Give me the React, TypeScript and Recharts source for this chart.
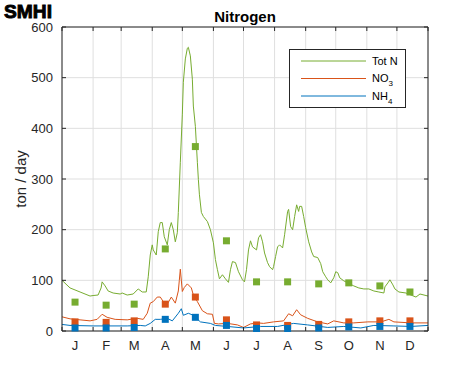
import {
  ComposedChart,
  Line,
  Scatter,
  XAxis,
  YAxis,
  ZAxis,
  CartesianGrid,
} from "recharts";

const months = ["J", "F", "M", "A", "M", "J", "J", "A", "S", "O", "N", "D"];
const monthStarts = [0, 31, 59, 90, 120, 151, 181, 212, 243, 273, 304, 334, 365];
const sampleDays = [13, 44, 72, 103, 133, 164, 194, 225, 256, 286, 317, 347];
const yTicks = [0, 100, 200, 300, 400, 500, 600];

// daily transport, [day of year, ton/day]
const totN: [number, number][] = [
  [0, 100], [8, 85], [18, 77], [28, 69], [31, 70], [36, 71], [39, 85], [40, 97],
  [43, 89], [46, 79], [51, 75], [58, 73], [60, 75], [65, 71], [71, 73], [76, 83],
  [80, 77], [84, 77], [86, 107], [88, 150], [90, 170], [91, 160], [94, 150],
  [96, 196], [98, 214], [100, 214], [102, 186], [105, 170], [107, 200], [109, 214],
  [111, 200], [113, 176], [115, 194], [116, 234], [118, 333], [120, 428], [121, 491],
  [123, 537], [125, 558], [126, 560], [128, 543], [130, 497], [131, 444], [133, 404],
  [135, 333], [136, 299], [137, 270], [139, 234], [141, 226], [145, 216], [148, 200],
  [151, 174], [153, 141], [155, 121], [157, 103], [160, 111], [163, 103], [166, 96],
  [168, 121], [170, 137], [173, 135], [176, 117], [180, 101], [182, 97], [184, 121],
  [186, 160], [188, 178], [190, 166], [194, 160], [196, 184], [198, 190], [200, 176],
  [202, 154], [205, 135], [207, 127], [210, 121], [211, 127], [213, 147], [215, 166],
  [217, 170], [220, 164], [222, 190], [225, 236], [226, 240], [228, 206], [230, 200],
  [232, 226], [234, 249], [236, 236], [237, 246], [239, 246], [241, 226], [243, 204],
  [246, 176], [249, 156], [251, 147], [255, 145], [258, 133], [260, 117], [263, 107],
  [265, 101], [268, 95], [271, 105], [273, 117], [275, 115], [277, 105], [281, 99],
  [285, 95], [291, 89], [296, 85], [301, 83], [306, 83], [311, 79], [316, 77],
  [321, 75], [322, 87], [325, 95], [327, 101], [330, 91], [332, 83], [336, 77],
  [343, 75], [348, 71], [353, 67], [357, 73], [361, 71], [365, 69],
];

const no3: [number, number][] = [
  [0, 28], [8, 24], [18, 22], [28, 20], [35, 23], [40, 33], [45, 27], [53, 23],
  [65, 22], [75, 25], [81, 23], [85, 35], [88, 55], [91, 58], [95, 67], [98, 67],
  [101, 58], [105, 53], [109, 67], [113, 55], [116, 79], [117, 100], [118, 122],
  [120, 78], [122, 86], [125, 93], [129, 85], [131, 71], [135, 58], [140, 40],
  [145, 34], [150, 33], [152, 15], [156, 14], [165, 15], [175, 12], [181, 7],
  [188, 14], [195, 16], [201, 15], [211, 18], [221, 20], [226, 34], [230, 30],
  [234, 42], [238, 32], [245, 25], [255, 18], [265, 14], [271, 20], [281, 16],
  [291, 16], [305, 18], [318, 18], [326, 23], [331, 18], [348, 16], [365, 16],
];

const nh4: [number, number][] = [
  [0, 13], [8, 11], [31, 10], [65, 10], [78, 11], [83, 10], [88, 15], [93, 23],
  [98, 23], [105, 25], [110, 20], [116, 35], [119, 44], [121, 31], [126, 35],
  [131, 31], [138, 18], [148, 15], [153, 11], [165, 9], [181, 6], [198, 9],
  [215, 9], [231, 15], [245, 12], [265, 7], [281, 9], [298, 6], [311, 11],
  [331, 10], [348, 9], [365, 11],
];

// monthly samples
const totNSamples = [57, 51, 53, 162, 364, 178, 97, 97, 93, 95, 89, 77];
const no3Samples = [18, 17, 20, 53, 67, 22, 12, 11, 13, 18, 20, 20];
const nh4Samples = [6, 6, 7, 23, 27, 11, 5, 5, 6, 8, 9, 9];

const GREEN = "#77AC30";
const ORANGE = "#D95319";
const BLUE = "#0072BD";
const AXIS = "#262626";
const GRID = "#dfdfdf";

const toRows = (pts: [number, number][]) => pts.map(([day, v]) => ({ day, v }));
const toSamples = (vals: number[]) => vals.map((v, i) => ({ day: sampleDays[i], v }));

const legendItems = [
  { main: "Tot N", sub: "", color: GREEN },
  { main: "NO", sub: "3", color: ORANGE },
  { main: "NH", sub: "4", color: BLUE },
];

const MonthTick = (props: any) => {
  const { x, y, payload } = props;
  const i = sampleDays.indexOf(payload.value);
  if (i >= 0) {
    return (
      <text x={x} y={y} dy="0.71em" textAnchor="middle" fill={AXIS} fontSize={13}>
        {months[i]}
      </text>
    );
  }
  return <line x1={x} x2={x} y1={y - 10} y2={y - 14} stroke={AXIS} />;
};

const ValueTick = (props: any) => {
  const { x, y, payload } = props;
  return (
    <g>
      <text x={x} y={y} dy="0.355em" textAnchor="end" fill={AXIS} fontSize={13}>
        {payload.value}
      </text>
      <line x1={x + 9} x2={x + 13} y1={y} y2={y} stroke={AXIS} />
    </g>
  );
};

const App = () => {
  return (
    <div
      style={{
        position: "absolute",
        left: 0,
        top: 0,
        width: 471,
        height: 371,
        background: "#fff",
        fontFamily: "'Liberation Sans', Arial, sans-serif",
      }}
    >
      <ComposedChart
        width={471}
        height={371}
        margin={{ top: 27, right: 43, bottom: 10, left: 0 }}
      >
        <CartesianGrid vertical={false} stroke={GRID} />
        <CartesianGrid xAxisId="top" yAxisId="right" horizontal={false} stroke={GRID} />
        <XAxis
          type="number"
          dataKey="day"
          domain={[0, 365]}
          ticks={[...sampleDays, ...monthStarts].sort((a, b) => a - b)}
          interval={0}
          tick={<MonthTick />}
          tickLine={false}
          tickSize={0}
          tickMargin={10}
          height={30}
          axisLine={{ stroke: AXIS }}
        />
        <XAxis
          xAxisId="top"
          orientation="top"
          type="number"
          dataKey="day"
          domain={[0, 365]}
          ticks={monthStarts}
          interval={0}
          mirror
          tickSize={4}
          height={1}
          tickFormatter={() => ""}
          stroke={AXIS}
        />
        <YAxis
          type="number"
          domain={[0, 600]}
          ticks={yTicks}
          interval={0}
          width={62}
          tick={<ValueTick />}
          tickLine={false}
          tickSize={0}
          tickMargin={9}
          axisLine={{ stroke: AXIS }}
          label={{
            content: ({ viewBox }: any) => {
              const cx = 20;
              const cy = viewBox.y + viewBox.height / 2;
              return (
                <text
                  x={cx}
                  y={cy}
                  transform={`rotate(-90, ${cx}, ${cy})`}
                  textAnchor="middle"
                  dominantBaseline="central"
                  fill={AXIS}
                  fontSize={15}
                >
                  ton / day
                </text>
              );
            },
          }}
        />
        <YAxis
          yAxisId="right"
          orientation="right"
          type="number"
          domain={[0, 600]}
          ticks={yTicks}
          interval={0}
          mirror
          width={1}
          tickSize={4}
          tickFormatter={() => ""}
          stroke={AXIS}
        />
        <ZAxis range={[49, 49]} />
        <ZAxis zAxisId="r" range={[49, 49]} />
        <Line
          data={toRows(totN)}
          dataKey="v"
          type="linear"
          stroke={GREEN}
          strokeWidth={1}
          dot={false}
          isAnimationActive={false}
        />
        <Line
          data={toRows(no3)}
          dataKey="v"
          type="linear"
          stroke={ORANGE}
          strokeWidth={1}
          dot={false}
          isAnimationActive={false}
        />
        <Line
          xAxisId="top"
          yAxisId="right"
          data={toRows(nh4)}
          dataKey="v"
          type="linear"
          stroke={BLUE}
          strokeWidth={1}
          dot={false}
          isAnimationActive={false}
        />
        <Scatter data={toSamples(totNSamples)} dataKey="v" fill={GREEN} shape="square" isAnimationActive={false} />
        <Scatter data={toSamples(no3Samples)} dataKey="v" fill={ORANGE} shape="square" isAnimationActive={false} />
        <Scatter
          xAxisId="top"
          yAxisId="right"
          zAxisId="r"
          data={toSamples(nh4Samples)}
          dataKey="v"
          fill={BLUE}
          shape="square"
          isAnimationActive={false}
        />
      </ComposedChart>

      <svg
        width={471}
        height={27}
        style={{ position: "absolute", left: 0, top: 0, pointerEvents: "none" }}
      >
        <text
          x={4}
          y={18}
          fontSize={19}
          fontWeight={900}
          fontFamily="'Liberation Sans Narrow', 'Liberation Sans', Arial, sans-serif"
          textLength={48}
          lengthAdjust="spacingAndGlyphs"
          fill="#000"
          stroke="#000"
          strokeWidth={0.9}
        >
          SMHI
        </text>
        <text x={245} y={22} textAnchor="middle" fontSize={15} fontWeight={700} fill="#000">
          Nitrogen
        </text>
      </svg>

      <div
        style={{
          position: "absolute",
          left: 289,
          top: 49,
          width: 115,
          height: 57,
          border: `1px solid ${AXIS}`,
          background: "#fff",
        }}
      >
        <svg width={115} height={57}>
          {legendItems.map((it, i) => {
            const y = 11 + i * 17.5;
            return (
              <g key={it.main}>
                <line x1={11} x2={76} y1={y} y2={y} stroke={it.color} strokeWidth={1} />
                <text x={82} y={y} dy="0.355em" fontSize={11} fill="#000">
                  {it.main}
                  {it.sub && (
                    <tspan fontSize={8} dy={4}>
                      {it.sub}
                    </tspan>
                  )}
                </text>
              </g>
            );
          })}
        </svg>
      </div>
    </div>
  );
};

export default App;
